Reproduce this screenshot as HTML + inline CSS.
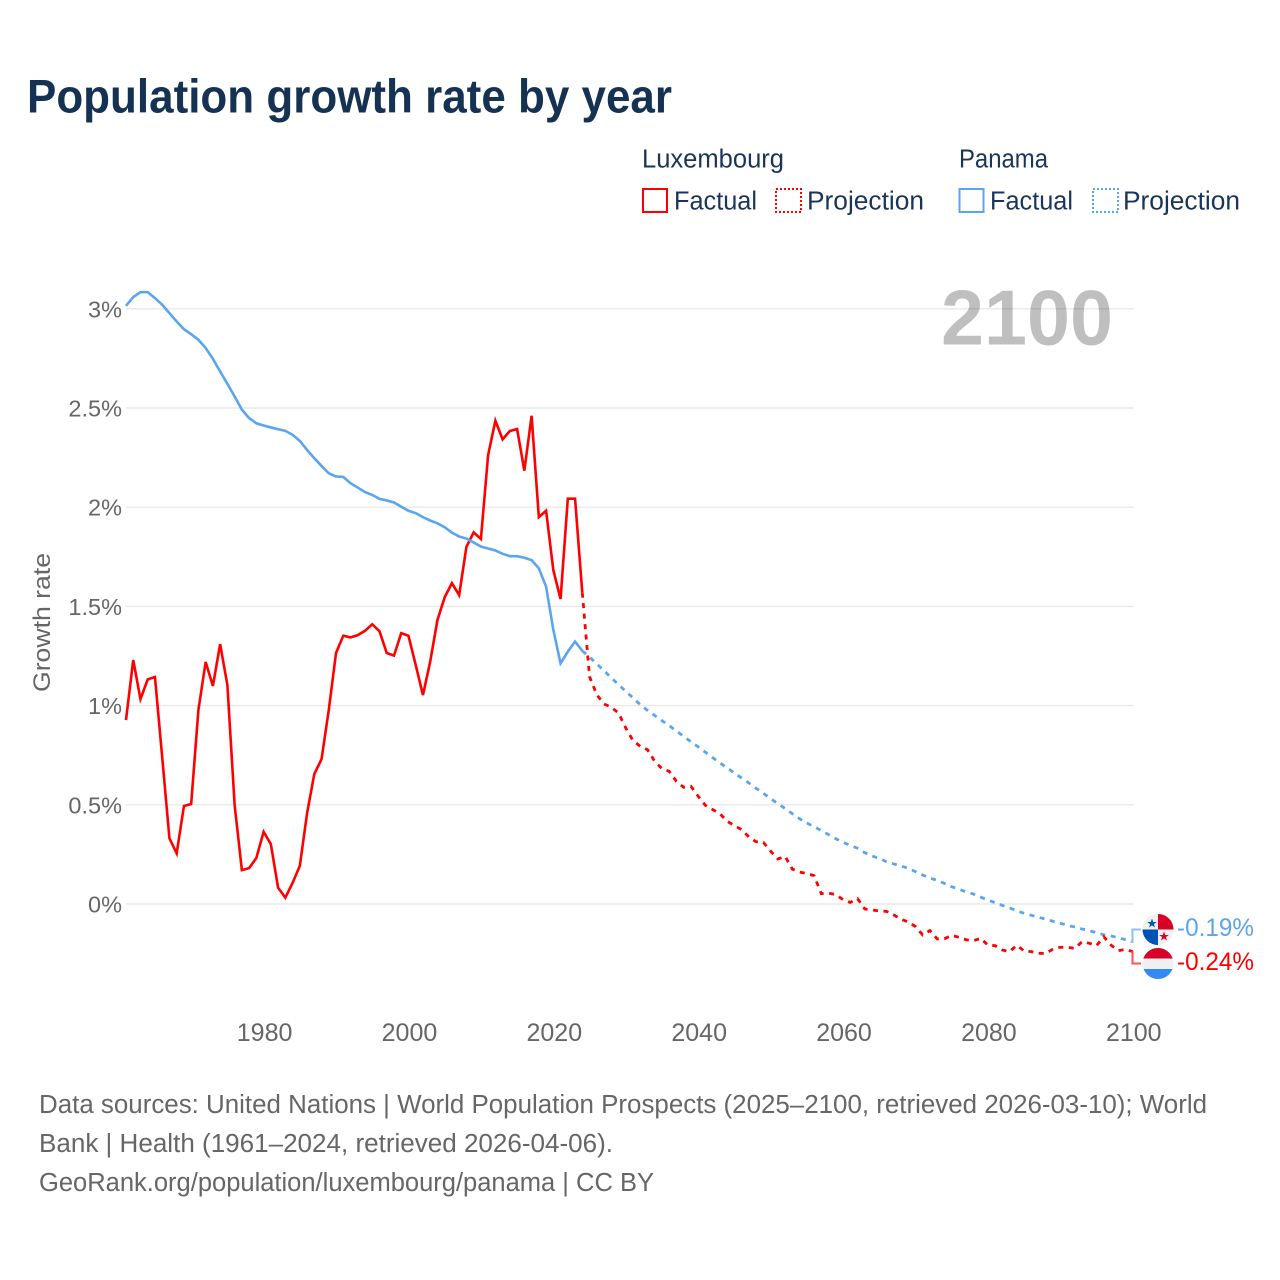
<!DOCTYPE html>
<html lang="en">
<head>
<meta charset="utf-8">
<title>Population growth rate by year</title>
<style>
html,body{margin:0;padding:0;background:#fff;}
svg{display:block;}
text{font-family:"Liberation Sans",sans-serif;}
</style>
</head>
<body>
<svg id="chart" width="1280" height="1280" viewBox="0 0 1280 1280" xmlns="http://www.w3.org/2000/svg">
<rect x="0" y="0" width="1280" height="1280" fill="#ffffff"/>
<text x="27" y="112.5" font-size="47" font-weight="700" fill="#163253" textLength="645" lengthAdjust="spacingAndGlyphs">Population growth rate by year</text>

<g font-size="25.5" fill="#1a3557">
<text x="642" y="167.5" textLength="142" lengthAdjust="spacingAndGlyphs">Luxembourg</text>
<text x="959" y="167.5" textLength="89" lengthAdjust="spacingAndGlyphs">Panama</text>
<rect x="643" y="189" width="24" height="23" fill="none" stroke="#ff0000" stroke-width="2"/>
<text x="674" y="209.5" textLength="83" lengthAdjust="spacingAndGlyphs">Factual</text>
<rect x="776" y="189" width="25" height="23" fill="none" stroke="#ff0000" stroke-width="2" stroke-dasharray="2 2"/>
<text x="807" y="209.5" textLength="117" lengthAdjust="spacingAndGlyphs">Projection</text>
<rect x="959.5" y="189" width="24" height="23" fill="none" stroke="#5aa5f0" stroke-width="2"/>
<text x="990" y="209.5" textLength="83" lengthAdjust="spacingAndGlyphs">Factual</text>
<rect x="1093" y="189" width="25" height="23" fill="none" stroke="#5aa5f0" stroke-width="2" stroke-dasharray="2 2"/>
<text x="1123" y="209.5" textLength="117" lengthAdjust="spacingAndGlyphs">Projection</text>
</g>

<g id="grid"></g>
<text x="1113" y="344.5" text-anchor="end" font-size="78" font-weight="700" fill="#000000" fill-opacity="0.25" textLength="172" lengthAdjust="spacingAndGlyphs">2100</text>
<g id="yticks"></g>
<g id="xticks"></g>
<text transform="translate(50,622.5) rotate(-90)" text-anchor="middle" font-size="24" fill="#666666" textLength="139" lengthAdjust="spacingAndGlyphs">Growth rate</text>
<g id="series"></g>

<g fill="none" stroke-width="2">
<path d="M1130.5 942 L1132.5 942 L1132.5 929.5 L1141 929.5" stroke="#8fc0f4"/>
<path d="M1132.5 951 L1132.5 963.5 L1141 963.5" stroke="#ff5050"/>
</g>

<g>
<clipPath id="clipLux"><circle cx="1158" cy="963.5" r="15.5"/></clipPath>
<g clip-path="url(#clipLux)">
<rect x="1142" y="948" width="32" height="10.5" fill="#d80027"/>
<rect x="1142" y="958.5" width="32" height="10.5" fill="#f0f0f0"/>
<rect x="1142" y="969" width="32" height="10.5" fill="#338af3"/>
</g>
</g>
<g>
<clipPath id="clipPan"><circle cx="1158" cy="929.5" r="15.5"/></clipPath>
<g clip-path="url(#clipPan)">
<rect x="1142" y="914" width="32" height="32" fill="#f0f0f0"/>
<rect x="1158" y="914" width="16" height="15.5" fill="#d80027"/>
<rect x="1142" y="929.5" width="16" height="16" fill="#0052b4"/>
<polygon points="1152,918.5 1153.2,922 1156.8,922 1153.9,924.1 1155,927.5 1152,925.4 1149,927.5 1150.1,924.1 1147.2,922 1150.8,922" fill="#0052b4"/>
<polygon points="1164,931.5 1165.2,935 1168.8,935 1165.9,937.1 1167,940.5 1164,938.4 1161,940.5 1162.1,937.1 1159.2,935 1162.8,935" fill="#d80027"/>
</g>
</g>

<text x="1177" y="936" font-size="25" fill="#5aa5f0" textLength="77" lengthAdjust="spacingAndGlyphs">-0.19%</text>
<text x="1177" y="970" font-size="25" fill="#ff0000" textLength="77" lengthAdjust="spacingAndGlyphs">-0.24%</text>

<g font-size="25.5" fill="#666666">
<text x="39" y="1113" textLength="1168" lengthAdjust="spacingAndGlyphs">Data sources: United Nations | World Population Prospects (2025–2100, retrieved 2026-03-10); World</text>
<text x="39" y="1152" textLength="574" lengthAdjust="spacingAndGlyphs">Bank | Health (1961–2024, retrieved 2026-04-06).</text>
<text x="39" y="1191" textLength="615" lengthAdjust="spacingAndGlyphs">GeoRank.org/population/luxembourg/panama | CC BY</text>
</g>
</svg>

<script>
const factualStartYear = 1961;
const projectionStartYear = 2024;
const xTickYears = [1980, 2000, 2020, 2040, 2060, 2080, 2100];
const yTickValues = [0, 0.5, 1, 1.5, 2, 2.5, 3];
const yTickLabels = ['0%', '0.5%', '1%', '1.5%', '2%', '2.5%', '3%'];

const luxembourgFactual = [0.927,1.23,1.033,1.132,1.144,0.74,0.331,0.255,0.494,0.504,0.978,1.22,1.099,1.31,1.104,0.499,0.171,0.181,0.232,0.364,0.302,0.082,0.032,0.106,0.192,0.457,0.655,0.73,0.978,1.265,1.352,1.344,1.355,1.377,1.41,1.375,1.265,1.252,1.365,1.352,1.205,1.053,1.221,1.431,1.546,1.617,1.557,1.80,1.873,1.84,2.263,2.436,2.342,2.384,2.394,2.184,2.461,1.95,1.982,1.683,1.537,2.043,2.043,1.569];
const luxembourgProjection = [1.569,1.146,1.055,1.008,0.992,0.963,0.887,0.824,0.795,0.778,0.719,0.682,0.669,0.618,0.588,0.593,0.543,0.497,0.476,0.455,0.417,0.395,0.375,0.338,0.314,0.311,0.266,0.227,0.24,0.176,0.161,0.153,0.143,0.052,0.055,0.047,0.022,0.008,0.027,-0.025,-0.03,-0.035,-0.037,-0.055,-0.077,-0.09,-0.114,-0.156,-0.134,-0.176,-0.175,-0.158,-0.168,-0.18,-0.185,-0.173,-0.207,-0.21,-0.232,-0.24,-0.208,-0.237,-0.24,-0.249,-0.249,-0.227,-0.218,-0.218,-0.224,-0.19,-0.198,-0.21,-0.165,-0.207,-0.235,-0.229,-0.24];
const panamaFactual = [3.015,3.059,3.084,3.084,3.054,3.02,2.978,2.936,2.897,2.872,2.844,2.802,2.748,2.684,2.622,2.558,2.492,2.449,2.423,2.412,2.402,2.393,2.385,2.365,2.334,2.289,2.247,2.208,2.171,2.155,2.153,2.121,2.099,2.076,2.062,2.042,2.034,2.024,2.003,1.982,1.97,1.95,1.933,1.919,1.899,1.872,1.852,1.842,1.822,1.802,1.792,1.782,1.765,1.753,1.753,1.745,1.733,1.692,1.60,1.382,1.213,1.272,1.323,1.276];
const panamaProjection = [1.276,1.245,1.21,1.176,1.14,1.106,1.072,1.039,1.005,0.976,0.95,0.924,0.899,0.872,0.845,0.818,0.792,0.765,0.738,0.711,0.686,0.66,0.635,0.61,0.583,0.558,0.531,0.506,0.481,0.455,0.43,0.408,0.39,0.37,0.35,0.329,0.311,0.296,0.281,0.259,0.242,0.23,0.213,0.202,0.192,0.18,0.163,0.146,0.131,0.119,0.104,0.087,0.074,0.062,0.05,0.035,0.02,0.007,-0.007,-0.02,-0.034,-0.047,-0.057,-0.067,-0.077,-0.087,-0.097,-0.108,-0.116,-0.126,-0.134,-0.145,-0.155,-0.161,-0.17,-0.18,-0.19];

const NS = 'http://www.w3.org/2000/svg';
const plotLeft = 126;
const plotRight = 1133.5;

function xScale(year) {
  return 264.3 + (year - 1980) * 7.243;
}
function yScale(value) {
  return 904 - value * 198.4;
}
function linePath(values, startYear) {
  return values.map(function (v, i) {
    return (i ? 'L' : 'M') + (xScale(startYear + i) - 0.7).toFixed(2) + ' ' + yScale(v).toFixed(2);
  }).join(' ');
}

const gridGroup = document.getElementById('grid');
const yTickGroup = document.getElementById('yticks');
const xTickGroup = document.getElementById('xticks');
const seriesGroup = document.getElementById('series');

yTickValues.forEach(function (v, i) {
  const line = document.createElementNS(NS, 'line');
  
  
  line.setAttribute('x1', plotLeft);
  line.setAttribute('x2', plotRight);
  line.setAttribute('y1', yScale(v));
  line.setAttribute('y2', yScale(v));
  line.setAttribute('stroke', '#e9e9e9');
  line.setAttribute('stroke-width', '1.4');
  gridGroup.appendChild(line);

  const label = document.createElementNS(NS, 'text');
  
  
  label.setAttribute('x', 122);
  label.setAttribute('y', yScale(v) + 8.5);
  label.setAttribute('text-anchor', 'end');
  label.setAttribute('font-size', '23.5');
  label.setAttribute('fill', '#666666');
  label.textContent = yTickLabels[i];
  yTickGroup.appendChild(label);
});

xTickYears.forEach(function (year) {
  const label = document.createElementNS(NS, 'text');
  
  
  label.setAttribute('x', xScale(year) + 0.3);
  label.setAttribute('y', 1041);
  label.setAttribute('text-anchor', 'middle');
  label.setAttribute('font-size', '25');
  label.setAttribute('fill', '#666666');
  label.textContent = String(year);
  xTickGroup.appendChild(label);
});

const factualRed = document.createElementNS(NS, 'path');


factualRed.setAttribute('d', linePath(luxembourgFactual, factualStartYear));
factualRed.setAttribute('fill', 'none');
factualRed.setAttribute('stroke', '#ff0000');
factualRed.setAttribute('stroke-width', '2.6');
seriesGroup.appendChild(factualRed);

const factualBlue = document.createElementNS(NS, 'path');


factualBlue.setAttribute('d', linePath(panamaFactual, factualStartYear));
factualBlue.setAttribute('fill', 'none');
factualBlue.setAttribute('stroke', '#5aa5f0');
factualBlue.setAttribute('stroke-width', '2.6');
seriesGroup.appendChild(factualBlue);

const projectionBlue = document.createElementNS(NS, 'path');


projectionBlue.setAttribute('d', linePath(panamaProjection, projectionStartYear));
projectionBlue.setAttribute('fill', 'none');
projectionBlue.setAttribute('stroke', '#5aa5f0');
projectionBlue.setAttribute('stroke-width', '2.8');
projectionBlue.setAttribute('stroke-dasharray', '5 5.5');
seriesGroup.appendChild(projectionBlue);

const projectionRed = document.createElementNS(NS, 'path');


projectionRed.setAttribute('d', linePath(luxembourgProjection, projectionStartYear));
projectionRed.setAttribute('fill', 'none');
projectionRed.setAttribute('stroke', '#ff0000');
projectionRed.setAttribute('stroke-width', '2.8');
projectionRed.setAttribute('stroke-dasharray', '5 5.5');
seriesGroup.appendChild(projectionRed);
</script>
</body>
</html>
